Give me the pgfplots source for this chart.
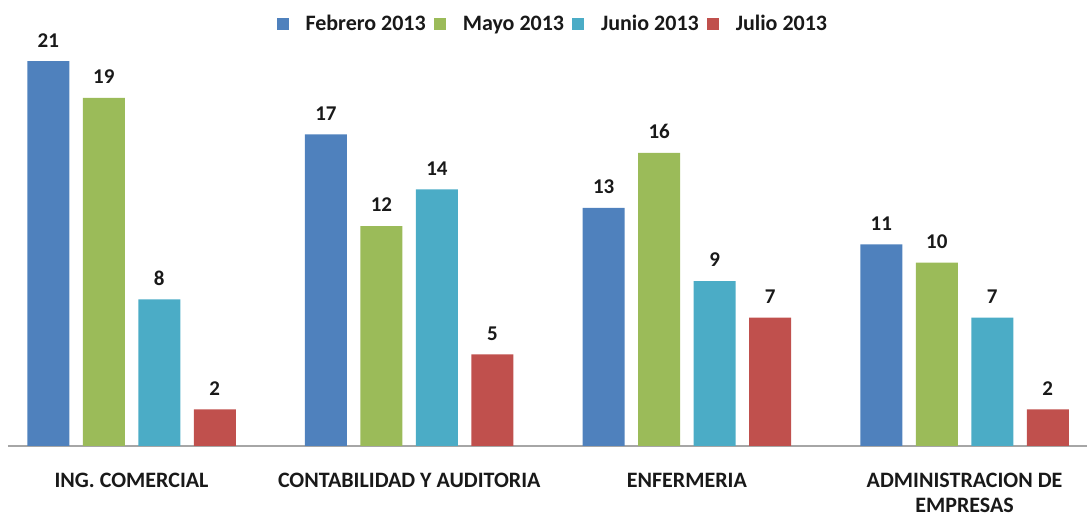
\documentclass[border=0pt]{standalone}
\usepackage{pgfplots}
\pgfplotsset{compat=1.18}
\usepackage{fontspec}
\setmainfont{Carlito}
\definecolor{cFeb}{RGB}{79,129,189}
\definecolor{cMay}{RGB}{155,187,89}
\definecolor{cJun}{RGB}{75,172,198}
\definecolor{cJul}{RGB}{192,80,77}
\definecolor{txt}{RGB}{25,25,25}
\begin{document}
\begin{tikzpicture}
\begin{axis}[
  scale only axis, width=1079pt, height=416pt,
  ymin=0, ymax=22.7, xmin=-0.445, xmax=3.441,
  enlargelimits=false, clip=false,
  ybar=13.5pt, bar width=42pt,
  hide y axis,
  axis x line*=bottom,
  x axis line style={draw=black!35, line width=1.5pt},
  major tick length=0pt,
  xtick={0,1,2,3},
  xticklabels={ING. COMERCIAL, CONTABILIDAD Y AUDITORIA, ENFERMERIA, {ADMINISTRACION DE\\EMPRESAS}},
  xticklabel style={font=\fontsize{22}{25}\selectfont\bfseries, text=txt, align=center, anchor=north, inner sep=0pt, yshift=-27pt},
  /pgf/number format/assume math mode=true,
  nodes near coords,
  every node near coord/.append style={font=\fontsize{21}{24}\selectfont\bfseries, text=txt, anchor=center, yshift=21pt},
  legend columns=4,
  legend style={draw=none, at={(0.504,1.0144)}, anchor=center, font=\fontsize{22}{24}\selectfont\bfseries, text=txt,
    nodes={inner sep=0pt},
    /tikz/every odd column/.append style={column sep=17pt}, /tikz/every even column/.append style={column sep=8pt}},
  legend image code/.code={\fill[#1] (0pt,-6pt) rectangle (12pt,6pt);},
]
\addplot[fill=cFeb, draw=none] coordinates {(0,21) (1,17) (2,13) (3,11)};
\addplot[fill=cMay, draw=none] coordinates {(0,19) (1,12) (2,16) (3,10)};
\addplot[fill=cJun, draw=none] coordinates {(0,8) (1,14) (2,9) (3,7)};
\addplot[fill=cJul, draw=none] coordinates {(0,2) (1,5) (2,7) (3,2)};
\legend{Febrero 2013, Mayo 2013, Junio 2013, Julio 2013}
\end{axis}
\pgfresetboundingbox
\path (-8pt,-70pt) rectangle (1079pt,446pt);
\end{tikzpicture}
\end{document}
